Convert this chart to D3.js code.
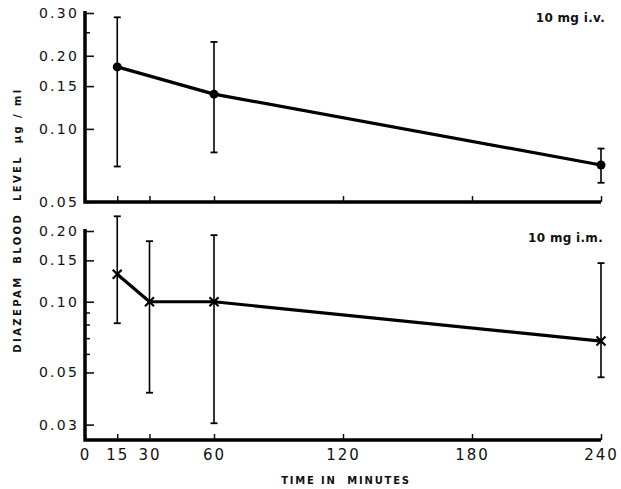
<!DOCTYPE html>
<html>
<head>
<meta charset="utf-8">
<script src="https://cdn.jsdelivr.net/npm/d3@7"></script>
<style>
  body { margin: 0; background: #fff; }
  text { font-family: "DejaVu Sans", sans-serif; fill: #111; }
</style>
</head>
<body>
<script>
// data (minutes, µg/ml)
const timeTicks = [0, 15, 30, 60, 120, 180, 240];

const ivTime = [15, 60, 240];
const ivMean = [0.180, 0.139, 0.071];
const ivLow  = [0.070, 0.080, 0.060];
const ivHigh = [0.288, 0.228, 0.083];

const imTime = [15, 30, 60, 240];
const imMean = [0.131, 0.100, 0.100, 0.068];
const imLow  = [0.081, 0.041, 0.0304, 0.0477];
const imHigh = [0.231, 0.181, 0.192, 0.146];

const ivTicks = [0.05, 0.10, 0.15, 0.20, 0.30];
const ivMinor = [0.25];
const imTicks = [0.03, 0.05, 0.10, 0.15, 0.20];
const imMinor = [0.06, 0.07, 0.08, 0.09];

const W = 621, H = 489;
const svg = d3.select("body").append("svg")
  .attr("width", W).attr("height", H);

const x = d3.scaleLinear().domain([0, 240]).range([85, 601]);

const fmt = d3.format(".2f");

function panel(opts) {
  const y = d3.scaleLog().domain(opts.domain).range(opts.range);
  const g = svg.append("g");

  // y ticks (pointing inward), labels on the left
  const ya = g.append("g")
    .attr("transform", `translate(${x(0)},0)`)
    .call(d3.axisLeft(y).tickValues(opts.ticks).tickFormat(fmt)
      .tickSizeInner(-9).tickSizeOuter(0).tickPadding(6));
  ya.select(".domain").remove();
  ya.selectAll("line").attr("stroke", "#111").attr("stroke-width", 1.6);
  ya.selectAll("text")
    .style("font-size", "14px")
    .style("letter-spacing", "2.2px")
    .style("font-family", "DejaVu Sans, sans-serif")
    .attr("fill", "#111");

  const ym = g.append("g")
    .attr("transform", `translate(${x(0)},0)`)
    .call(d3.axisLeft(y).tickValues(opts.minor).tickFormat("")
      .tickSizeInner(-5).tickSizeOuter(0));
  ym.select(".domain").remove();
  ym.selectAll("line").attr("stroke", "#111").attr("stroke-width", 1.5);

  // x ticks (pointing up)
  const xa = g.append("g")
    .attr("transform", `translate(0,${opts.range[0]})`)
    .call(d3.axisBottom(x).tickValues(timeTicks)
      .tickFormat(opts.labels ? d3.format("d") : "")
      .tickSizeInner(-6).tickSizeOuter(0).tickPadding(9));
  xa.select(".domain").remove();
  xa.selectAll("line").attr("stroke", "#111").attr("stroke-width", 1.5);
  xa.selectAll("text")
    .style("font-size", "15px")
    .style("letter-spacing", "2px")
    .style("font-family", "DejaVu Sans, sans-serif")
    .attr("fill", "#111");

  // heavy axis lines
  const top = opts.range[1] - 2;
  g.append("path")
    .attr("d", `M${x(0)},${top}V${opts.range[0]}H${x(240)}`)
    .attr("fill", "none").attr("stroke", "#000")
    .attr("stroke-width", 3.5).attr("stroke-linejoin", "miter");

  // error bars
  const eb = g.selectAll(".eb").data(opts.time).join("g");
  eb.append("line")
    .attr("x1", d => x(d)).attr("x2", d => x(d))
    .attr("y1", (d, i) => y(opts.low[i])).attr("y2", (d, i) => y(opts.high[i]))
    .attr("stroke", "#000").attr("stroke-width", 1.6);
  [opts.low, opts.high].forEach(arr => {
    eb.append("line")
      .attr("x1", d => x(d) - 3.5).attr("x2", d => x(d) + 3.5)
      .attr("y1", (d, i) => y(arr[i])).attr("y2", (d, i) => y(arr[i]))
      .attr("stroke", "#000").attr("stroke-width", 1.8);
  });

  // mean line
  const line = d3.line().x(d => x(d[0])).y(d => y(d[1]));
  g.append("path")
    .datum(opts.time.map((t, i) => [t, opts.mean[i]]))
    .attr("d", line)
    .attr("fill", "none").attr("stroke", "#000")
    .attr("stroke-width", 3.2).attr("stroke-linejoin", "round");

  // markers
  if (opts.marker === "dot") {
    g.selectAll(".dot").data(opts.time).join("circle")
      .attr("cx", d => x(d)).attr("cy", (d, i) => y(opts.mean[i]))
      .attr("r", 4.5).attr("fill", "#000");
  } else {
    const s = 4.5;
    g.selectAll(".cross").data(opts.time).join("path")
      .attr("d", (d, i) => {
        const cx = x(d), cy = y(opts.mean[i]);
        return `M${cx - s},${cy - s}L${cx + s},${cy + s}M${cx - s},${cy + s}L${cx + s},${cy - s}`;
      })
      .attr("stroke", "#000").attr("stroke-width", 2.2).attr("fill", "none");
  }

  // panel label
  g.append("text")
    .attr("x", opts.labelX).attr("y", opts.labelY)
    .attr("text-anchor", "end")
    .style("font-size", "12px").style("font-weight", "bold")
    .style("letter-spacing", "0.3px")
    .text(opts.label);
}

panel({
  domain: [0.05, 0.30], range: [202, 13],
  ticks: ivTicks, minor: ivMinor, labels: false,
  time: ivTime, mean: ivMean, low: ivLow, high: ivHigh,
  marker: "dot", label: "10 mg i.v.", labelX: 605, labelY: 22
});

panel({
  domain: [0.0258, 0.20], range: [440, 231],
  ticks: imTicks, minor: imMinor, labels: true,
  time: imTime, mean: imMean, low: imLow, high: imHigh,
  marker: "cross", label: "10 mg i.m.", labelX: 603, labelY: 242
});

// axis titles
svg.append("text")
  .attr("x", 346).attr("y", 484)
  .attr("text-anchor", "middle")
  .style("font-size", "10px").style("letter-spacing", "1.8px")
  .style("font-weight", "bold")
  .style("white-space", "pre")
  .text("TIME IN  MINUTES");

svg.append("text")
  .attr("transform", "translate(21,220) rotate(-90)")
  .attr("text-anchor", "middle")
  .style("font-size", "10px").style("letter-spacing", "2.4px")
  .style("font-weight", "bold")
  .style("white-space", "pre")
  .text("DIAZEPAM  BLOOD  LEVEL  µg / ml");
</script>
</body>
</html>
